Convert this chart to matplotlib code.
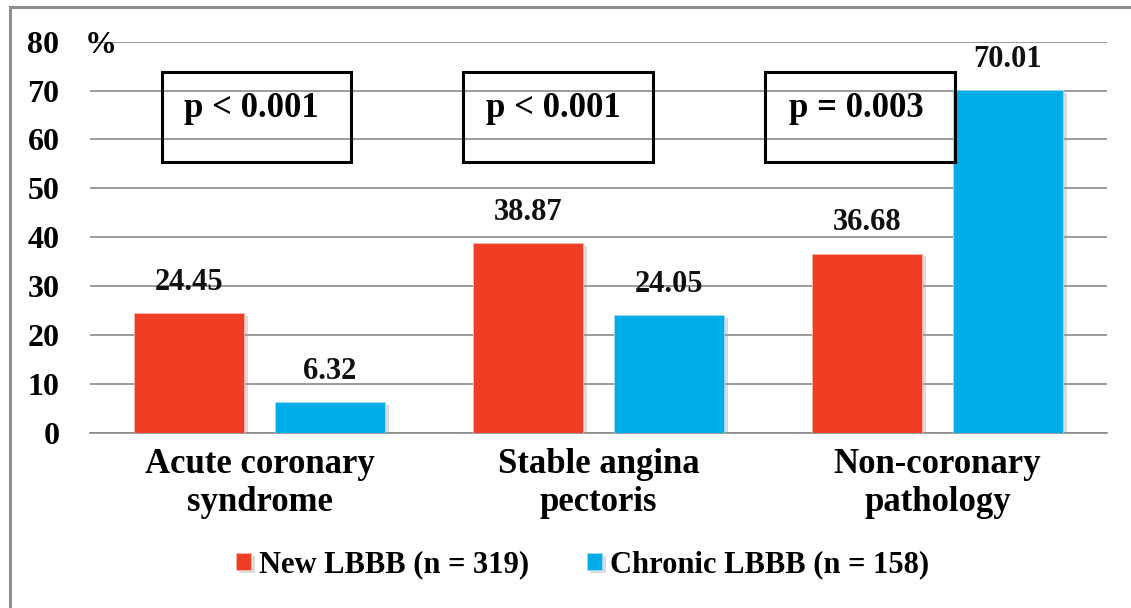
import matplotlib
matplotlib.use("Agg")
import matplotlib.pyplot as plt
import matplotlib.patheffects as pe
from matplotlib.patches import Rectangle
import numpy as np

plt.rcParams['font.family'] = ['Liberation Serif', 'DejaVu Serif']
plt.rcParams['font.weight'] = 'bold'

# data
categories = ['Acute coronary\nsyndrome', 'Stable angina\npectoris', 'Non-coronary\npathology']
new_lbbb = [24.45, 38.87, 36.68]
chronic_lbbb = [6.32, 24.05, 70.01]
series_names = ['New LBBB (n = 319)', 'Chronic LBBB (n = 158)']
p_labels = ['p < 0.001', 'p < 0.001', 'p = 0.003']
yticks = [0, 10, 20, 30, 40, 50, 60, 70, 80]

RED = '#EF3E24'
BLUE = '#00ADE6'

fig = plt.figure(figsize=(11.31, 6.08), dpi=100)
ax = fig.add_axes([90 / 1131, 175 / 608, 1017 / 1131, 391.4 / 608])

# outer frame (left and top edges fall inside the canvas)
fig.patches.append(Rectangle((10 / 1131, -0.1), 1.5, (608 - 7) / 608 + 0.1,
                             transform=fig.transFigure, fill=False,
                             edgecolor='#8e8e8e', linewidth=2.2))

x = np.arange(len(categories))
off, w = 0.208, 0.327
shadow = [pe.SimplePatchShadow(offset=(2.5, -2), shadow_rgbFace='#999999', alpha=0.35),
          pe.Normal()]
b1 = ax.bar(x - off, new_lbbb, w, color=RED, edgecolor='#f6b7ad', linewidth=0.6,
            zorder=3, label=series_names[0])
b2 = ax.bar(x + off, chronic_lbbb, w, color=BLUE, edgecolor='#9fdcf3', linewidth=0.6,
            zorder=3, label=series_names[1])
for bars in (b1, b2):
    for b in bars:
        b.set_path_effects(shadow)
        ax.annotate(f'{b.get_height():.2f}', (b.get_x() + b.get_width() / 2, b.get_height()),
                    xytext=(0, 22), textcoords='offset points', ha='center', va='center',
                    fontsize=22, fontweight='bold', color='#111111')

# p-value boxes
box_x = [(-0.288, 0.270), (0.600, 1.161), (1.491, 2.052)]
text_x = [-0.025, 0.866, 1.760]
for (x0, x1), tx, lab in zip(box_x, text_x, p_labels):
    ax.add_patch(Rectangle((x0, 55.4), x1 - x0, 73.8 - 55.4, fill=False,
                           edgecolor='black', linewidth=2.2, zorder=5))
    ax.text(tx, 66.4, lab, ha='center', va='center', fontsize=25,
            fontweight='bold', zorder=6)

ax.set_xlim(-0.5, 2.5)
ax.set_ylim(0, 80)
ax.set_yticks(yticks)
ax.set_yticklabels([str(t) for t in yticks], fontsize=23, fontweight='bold')
ax.set_xticks(x)
ax.set_xticklabels(categories, fontsize=25, fontweight='bold', linespacing=1.2)
ax.tick_params(axis='y', length=0, pad=22)
ax.tick_params(axis='x', length=0, pad=11)
ax.grid(axis='y', color='#8a8a8a', linewidth=1.2, zorder=0)
ax.set_axisbelow(True)
for s in ['top', 'right', 'left']:
    ax.spines[s].set_visible(False)
ax.spines['bottom'].set_color('#8a8a8a')
ax.spines['bottom'].set_linewidth(1.2)

ax.text(11 / 1017, 0.99, '%', transform=ax.transAxes, ha='center', va='center',
        fontsize=23, fontweight='bold')

fig.legend(handles=[b1, b2], loc='center', bbox_to_anchor=(0.515, 0.071), ncol=2,
           frameon=False, handlelength=0.5, handleheight=0.5,
           handletextpad=0.25, columnspacing=1.9,
           prop={'weight': 'bold', 'size': 22})

fig.savefig('out.png', dpi=100)
